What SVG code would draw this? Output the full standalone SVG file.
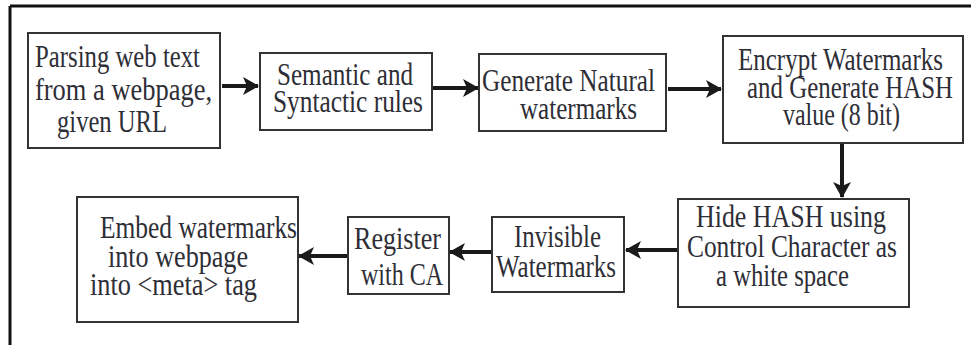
<svg xmlns="http://www.w3.org/2000/svg" width="971" height="345" viewBox="0 0 971 345">
<style>
.bg{fill:#ffffff}
.box{fill:#ffffff;stroke:#333333;stroke-width:2}
.frame{stroke:#111111;stroke-width:3;fill:none}
.t{font-family:"Liberation Serif","Times New Roman",serif;font-size:31px;fill:#2e2e36}
.c{stroke:#1a1a1a;stroke-width:4;fill:none}
</style>
<defs>
<marker id="ah" markerUnits="userSpaceOnUse" markerWidth="16" markerHeight="18" refX="15" refY="9" orient="auto">
<path d="M0,0 L16,9 L0,18 L4,9 Z" fill="#1a1a1a"/>
</marker>
</defs>
<rect class="bg" x="0" y="0" width="971" height="345"/>
<g id="frame">
<line class="frame" x1="10" y1="6" x2="971" y2="6"/>
<line class="frame" x1="10" y1="6" x2="10" y2="345"/>
</g>
<g id="connectors">
<line class="c" x1="222" y1="86" x2="258" y2="86" marker-end="url(#ah)"/>
<line class="c" x1="432" y1="88" x2="478" y2="88" marker-end="url(#ah)"/>
<line class="c" x1="668" y1="89" x2="721" y2="89" marker-end="url(#ah)"/>
<line class="c" x1="842" y1="144" x2="842" y2="197" marker-end="url(#ah)"/>
<line class="c" x1="677" y1="250" x2="626" y2="250" marker-end="url(#ah)"/>
<line class="c" x1="491" y1="252" x2="450" y2="252" marker-end="url(#ah)"/>
<line class="c" x1="347" y1="256" x2="299" y2="256" marker-end="url(#ah)"/>
</g>
<g id="n1">
<rect class="box" x="28" y="33" width="192" height="115"/>
<text class="t" x="35" y="67" textLength="165" lengthAdjust="spacingAndGlyphs">Parsing web text</text>
<text class="t" x="35" y="100" textLength="177" lengthAdjust="spacingAndGlyphs">from  a  webpage,</text>
<text class="t" x="57" y="132" textLength="110" lengthAdjust="spacingAndGlyphs">given URL</text>
</g>
<g id="n2">
<rect class="box" x="260" y="53" width="172" height="77"/>
<text class="t" x="277" y="85" textLength="136" lengthAdjust="spacingAndGlyphs">Semantic and</text>
<text class="t" x="273" y="112" textLength="150" lengthAdjust="spacingAndGlyphs">Syntactic rules</text>
</g>
<g id="n3">
<rect class="box" x="479" y="54" width="187" height="77"/>
<text class="t" x="482" y="91" textLength="173" lengthAdjust="spacingAndGlyphs">Generate Natural</text>
<text class="t" x="520" y="119" textLength="117" lengthAdjust="spacingAndGlyphs">watermarks</text>
</g>
<g id="n4">
<rect class="box" x="723" y="36" width="240" height="107"/>
<text class="t" x="738" y="70" textLength="205" lengthAdjust="spacingAndGlyphs">Encrypt Watermarks</text>
<text class="t" x="747" y="98" textLength="206" lengthAdjust="spacingAndGlyphs">and Generate HASH</text>
<text class="t" x="783" y="125" textLength="117" lengthAdjust="spacingAndGlyphs">value (8 bit)</text>
</g>
<g id="n5">
<rect class="box" x="678" y="199" width="231" height="108"/>
<text class="t" x="696" y="227" textLength="190" lengthAdjust="spacingAndGlyphs">Hide HASH  using</text>
<text class="t" x="687" y="257" textLength="210" lengthAdjust="spacingAndGlyphs">Control Character as</text>
<text class="t" x="716" y="286" textLength="133" lengthAdjust="spacingAndGlyphs">a white space</text>
</g>
<g id="n6">
<rect class="box" x="492" y="217" width="132" height="75"/>
<text class="t" x="514" y="247" textLength="87" lengthAdjust="spacingAndGlyphs">Invisible</text>
<text class="t" x="496" y="277" textLength="120" lengthAdjust="spacingAndGlyphs">Watermarks</text>
</g>
<g id="n7">
<rect class="box" x="348" y="217" width="101" height="77"/>
<text class="t" x="354" y="249" textLength="87" lengthAdjust="spacingAndGlyphs">Register</text>
<text class="t" x="361" y="285" textLength="82" lengthAdjust="spacingAndGlyphs">with CA</text>
</g>
<g id="n8">
<rect class="box" x="77" y="197" width="221" height="125"/>
<text class="t" x="100" y="238" textLength="197" lengthAdjust="spacingAndGlyphs">Embed watermarks</text>
<text class="t" x="108" y="267" textLength="140" lengthAdjust="spacingAndGlyphs">into webpage</text>
<text class="t" x="90" y="295" textLength="167" lengthAdjust="spacingAndGlyphs">into &lt;meta&gt; tag</text>
</g>
</svg>
